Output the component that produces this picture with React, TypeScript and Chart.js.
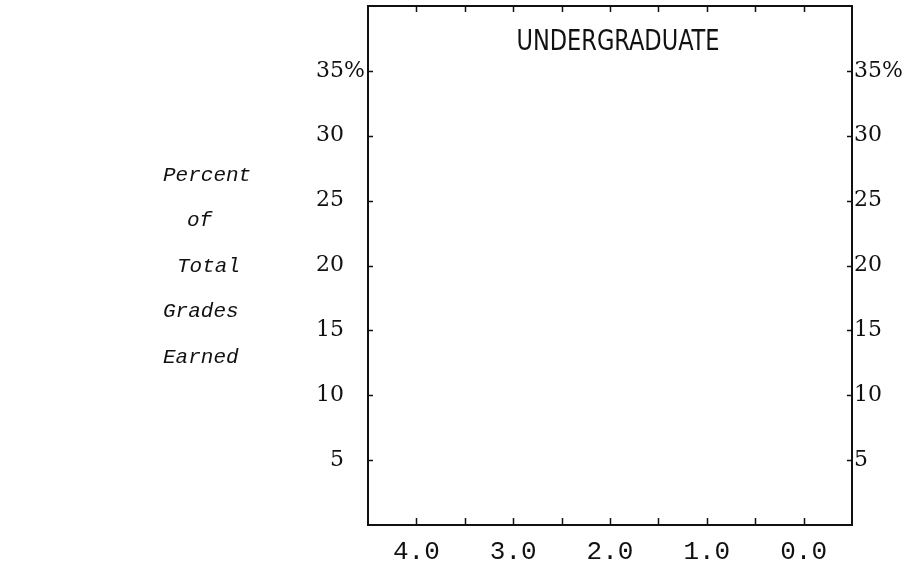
import React, { useEffect, useRef } from "react";
import { Chart, registerables } from "chart.js";

Chart.register(...registerables);

const chartTitle = "UNDERGRADUATE";
const axisLabelLines = ["Percent", "of", "Total", "Grades", "Earned"];
const axisLabelOffsets = [163, 187, 177, 163, 163];
const xTickValues = [4.0, 3.5, 3.0, 2.5, 2.0, 1.5, 1.0, 0.5, 0.0];
const xLabelValues = [4, 3, 2, 1, 0];
const xLabels = ["4.0", "3.0", "2.0", "1.0", "0.0"];
const yTickValues = [5, 10, 15, 20, 25, 30, 35];
const yLabels = ["5", "10", "15", "20", "25", "30", "35"];
const gradeShares: { x: number; y: number }[] = [];

const framePlugin = {
  id: "framePlugin",
  afterDraw(chart: any) {
    const ctx = chart.ctx as CanvasRenderingContext2D;
    const { left, right, top, bottom } = chart.chartArea;
    const xs = chart.scales.x;
    const ys = chart.scales.y;
    ctx.save();
    ctx.strokeStyle = "#111";
    ctx.fillStyle = "#111";
    ctx.lineWidth = 2;
    ctx.strokeRect(left, top, right - left, bottom - top);

    ctx.lineWidth = 1.5;
    ctx.beginPath();
    for (const v of xTickValues) {
      const px = Math.round(xs.getPixelForValue(v)) + 0.5;
      ctx.moveTo(px, bottom);
      ctx.lineTo(px, bottom - 7);
      ctx.moveTo(px, top);
      ctx.lineTo(px, top + 6);
    }
    for (const v of yTickValues) {
      const py = Math.round(ys.getPixelForValue(v)) + 0.5;
      ctx.moveTo(left, py);
      ctx.lineTo(left + 5, py);
      ctx.moveTo(right, py);
      ctx.lineTo(right - 5, py);
    }
    ctx.stroke();

    // x labels
    ctx.font = "26px 'Liberation Mono'";
    ctx.textAlign = "center";
    ctx.textBaseline = "middle";
    xLabelValues.forEach((v, i) => {
      ctx.fillText(xLabels[i], xs.getPixelForValue(v), bottom + 27);
    });

    // y labels left and right
    ctx.font = "22px 'DejaVu Serif'";
    yTickValues.forEach((v, i) => {
      const py = ys.getPixelForValue(v);
      const isTop = i === yTickValues.length - 1;
      ctx.textAlign = "right";
      ctx.fillText(yLabels[i], left - 24, py);
      if (isTop) {
        ctx.textAlign = "left";
        ctx.fillText("%", left - 24, py);
      }
      ctx.textAlign = "left";
      ctx.fillText(yLabels[i] + (isTop ? "%" : ""), right + 2, py);
    });

    // title
    ctx.font = "29px 'Liberation Sans Narrow', 'DejaVu Sans Condensed', sans-serif";
    ctx.textAlign = "left";
    const w = ctx.measureText(chartTitle).width;
    const target = 203;
    const cx = 618;
    ctx.translate(cx - target / 2, top + 36);
    ctx.scale(target / w, 1);
    ctx.fillText(chartTitle, 0, 0);
    ctx.setTransform(1, 0, 0, 1, 0, 0);

    // left italic axis label
    ctx.font = "italic 21px 'Liberation Mono'";
    ctx.textAlign = "left";
    axisLabelLines.forEach((t, i) => {
      ctx.fillText(t, axisLabelOffsets[i], 175 + i * 45.5);
    });
    ctx.restore();
  },
};

export default function App() {
  const ref = useRef<HTMLCanvasElement>(null);
  useEffect(() => {
    if (!ref.current) return;
    const chart = new Chart(ref.current, {
      type: "scatter",
      data: { datasets: [{ data: gradeShares, pointRadius: 0 }] },
      options: {
        animation: false,
        responsive: false,
        layout: { padding: { left: 368, right: 51, top: 6, bottom: 41 } },
        plugins: { legend: { display: false }, tooltip: { enabled: false } },
        scales: {
          x: { type: "linear", min: -0.5, max: 4.5, reverse: true, display: false },
          y: { type: "linear", min: 0, max: 40, display: false },
        },
      },
      plugins: [framePlugin],
    });
    return () => chart.destroy();
  }, []);
  return (
    <div style={{ position: "fixed", left: 0, top: 0, width: 903, height: 566, background: "#fff" }}>
      <canvas ref={ref} width={903} height={566} />
    </div>
  );
}
